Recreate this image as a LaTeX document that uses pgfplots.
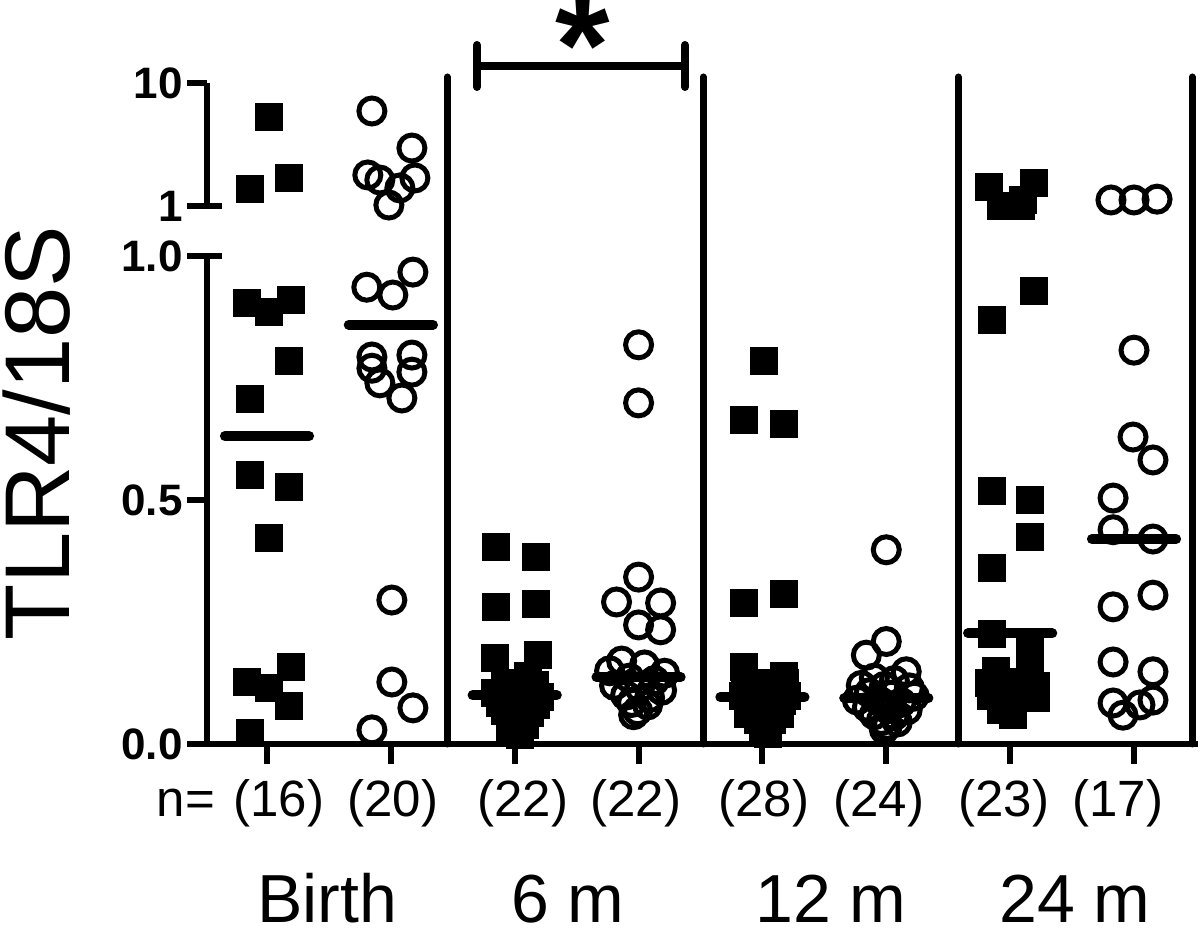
\documentclass[border=0pt]{standalone}
\usepackage{fontspec}
\setmainfont{Liberation Sans}
\usepackage{pgfplots}
\pgfplotsset{compat=1.18}
\begin{document}
\begin{tikzpicture}
\useasboundingbox (-103.5pt,-92.5pt) rectangle (496.5pt,372pt);
\pgfplotsset{
  common/.style={
    scale only axis, width=495.5pt, xmin=-0.4844, xmax=7.5166,
    clip=false,
    axis line style={-, line width=3pt, black},
    tick style={line width=3pt, black},
    major tick length=10pt, tick align=outside,
    yticklabel style={font=\fontsize{22}{22}\selectfont\bfseries, inner sep=0pt, xshift=-2pt},
  },
  filled/.style={only marks, mark=square*, mark size=6.75pt, mark options={fill=black, draw=black, line width=0.1pt}},
  open/.style={only marks, mark=o, mark size=6.5pt, mark options={draw=black, line width=2.5pt}},
  med/.style={no marks, line width=5pt, line cap=round, black},
}
% ---------------- lower segment 0 .. 1 ----------------
\begin{axis}[common, at={(0,0)}, anchor=south west, height=244pt,
  ymin=0, ymax=1,
  axis x line*=bottom, axis y line*=left,
  xtick={0,1,2,3,4,5,6,7}, xticklabels={},
  ytick={0,0.5,1}, yticklabels={0.0,0.5,1.0}]
% Birth, filled
\addplot[filled] coordinates {(-0.161,0.904) (0.016,0.887) (0.194,0.910) (0.178,0.785) (-0.137,0.707) (-0.137,0.553) (0.178,0.527) (0.016,0.422) (-0.161,0.127) (0.016,0.115) (0.194,0.158) (0.178,0.078) (-0.137,0.023)};
% Birth, open
\addplot[open] coordinates {(0.806,0.936) (1.016,0.920) (1.178,0.967) (0.847,0.793) (1.170,0.797) (0.847,0.770) (1.170,0.762) (0.911,0.740) (1.089,0.709) (1.008,0.295) (1.008,0.127) (1.178,0.074) (0.847,0.029)};
% 6 m, filled
\addplot[filled] coordinates {(1.847,0.404) (2.170,0.383) (1.847,0.281) (2.170,0.287) (1.839,0.178) (2.186,0.184)
 (2.105,0.140) (1.919,0.125) (2.161,0.122) (1.839,0.105) (2.040,0.105) (2.202,0.098) (1.879,0.085) (2.024,0.082) (2.170,0.080) (1.919,0.068) (2.121,0.065) (2.000,0.055) (1.960,0.048) (2.081,0.040) (1.960,0.030) (2.040,0.020)};
% 6 m, open
\addplot[open] coordinates {(3.000,0.818) (3.000,0.699) (3.000,0.342) (2.822,0.291) (3.178,0.289) (3.000,0.244) (3.178,0.234)
 (2.863,0.170) (3.048,0.162) (2.766,0.150) (3.210,0.145) (2.927,0.135) (3.129,0.130) (2.806,0.120) (3.008,0.115) (3.186,0.110) (2.895,0.100) (3.089,0.095) (2.944,0.085) (3.073,0.080) (2.992,0.068) (2.960,0.060)};
% 12 m, filled
\addplot[filled] coordinates {(4.008,0.785) (3.847,0.664) (4.170,0.656) (3.847,0.289) (4.170,0.309) (3.847,0.158) (4.170,0.141)
 (3.855,0.125) (4.016,0.125) (4.178,0.125) (3.911,0.110) (4.097,0.110) (3.839,0.100) (3.960,0.100) (4.073,0.100) (4.194,0.100)
 (3.879,0.088) (4.016,0.088) (4.153,0.088) (3.935,0.075) (4.097,0.075) (3.879,0.062) (4.016,0.062) (4.137,0.062)
 (3.960,0.050) (4.073,0.050) (4.000,0.035) (4.040,0.022)};
% 12 m, open
\addplot[open] coordinates {(5.000,0.398) (5.000,0.210) (4.839,0.182)
 (5.161,0.148) (4.903,0.135) (5.065,0.130) (4.798,0.120) (4.984,0.118) (5.186,0.115) (4.863,0.105) (5.040,0.100) (5.226,0.098)
 (4.766,0.090) (4.944,0.088) (5.121,0.085) (4.847,0.075) (5.008,0.072) (5.169,0.070) (4.903,0.060) (5.065,0.058)
 (4.960,0.048) (5.089,0.045) (5.008,0.038) (4.984,0.030)};
% 24 m, filled
\addplot[filled] coordinates {(6.186,0.930) (5.847,0.869) (5.847,0.520) (6.161,0.500) (6.161,0.426) (5.847,0.361) (5.847,0.227)
 (6.161,0.190) (6.161,0.160) (5.879,0.150) (5.822,0.125) (6.016,0.128) (6.202,0.120) (5.839,0.100) (6.040,0.098) (6.202,0.095) (5.919,0.070) (6.016,0.060)};
% 24 m, open
\addplot[open] coordinates {(7.000,0.807) (6.992,0.629) (7.153,0.582) (6.831,0.504) (6.831,0.439) (7.153,0.420) (7.153,0.305) (6.831,0.281) (6.831,0.168) (7.153,0.148) (6.831,0.084) (6.911,0.059) (7.048,0.080) (7.153,0.090)};
% medians
\addplot[med] coordinates {(-0.34,0.631) (0.34,0.631)};
\addplot[med] coordinates {(0.66,0.859) (1.34,0.859)};
\addplot[med] coordinates {(1.66,0.100) (2.34,0.100)};
\addplot[med] coordinates {(2.66,0.137) (3.34,0.137)};
\addplot[med] coordinates {(3.66,0.096) (4.34,0.096)};
\addplot[med] coordinates {(4.66,0.094) (5.34,0.094)};
\addplot[med] coordinates {(5.66,0.227) (6.34,0.227)};
\addplot[med] coordinates {(6.66,0.420) (7.34,0.420)};
\end{axis}
% ---------------- upper segment 1 .. 10 ----------------
\begin{axis}[common, at={(0,269pt)}, anchor=south west, height=61.5pt,
  ymin=1, ymax=10,
  axis x line=none, axis y line*=left,
  xtick=\empty,
  ytick={1,10}, yticklabels={1,10}]
\addplot[filled] coordinates {(0.016,7.51) (-0.137,2.24) (0.178,3.05)};
\addplot[open] coordinates {(0.847,7.95) (1.170,5.24) (0.814,3.27) (0.911,2.90) (1.073,2.32) (1.194,3.05) (0.984,1.07)};
\addplot[filled] coordinates {(5.822,2.39) (6.186,2.68) (5.919,1.02) (6.097,1.44) (6.081,1.02)};
\addplot[open] coordinates {(6.814,1.44) (7.000,1.44) (7.186,1.50)};
\end{axis}
% right-hand parts of the end ticks of both segments
\draw[line width=3pt] (-1.5pt,244pt) -- (7.5pt,244pt);
\draw[line width=3pt] (-1.5pt,269pt) -- (7.5pt,269pt);
% separators
\foreach \xx in {120,248,375.5,492.5}
  \draw[line width=3.5pt, line cap=round] (\xx pt,0) -- (\xx pt,333.5pt);
% significance bracket
\draw[line width=4pt] (135pt,339pt) -- (239pt,339pt);
\draw[line width=4pt, line cap=round] (135pt,328.5pt) -- (135pt,349.5pt);
\draw[line width=4pt, line cap=round] (239pt,328.5pt) -- (239pt,349.5pt);
\node[anchor=base, inner sep=0pt, font=\fontsize{70}{70}\selectfont\bfseries] at (188pt,325pt) {*};
% y label
\node[rotate=90, anchor=base, inner sep=0pt, font=\fontsize{46}{46}\selectfont] at (-68.5pt,155.5pt) {TLR4/18S};
% n labels
\foreach \xx/\t in {-10.5/{n=},36/{(16)},93/{(20)},158/{(22)},214.5/{(22)},278.5/{(28)},336/{(24)},398.5/{(23)},455.5/{(17)}}
  \node[anchor=base, inner sep=0pt, font=\fontsize{25.5}{25.5}\selectfont] at (\xx pt,-36.5pt) {\t};
% group labels
\foreach \xx/\t in {60/Birth,180.5/{6 m},312/{12 m},434/{24 m}}
  \node[anchor=base, inner sep=0pt, font=\fontsize{34}{34}\selectfont] at (\xx pt,-89.5pt) {\t};
\end{tikzpicture}
\end{document}
